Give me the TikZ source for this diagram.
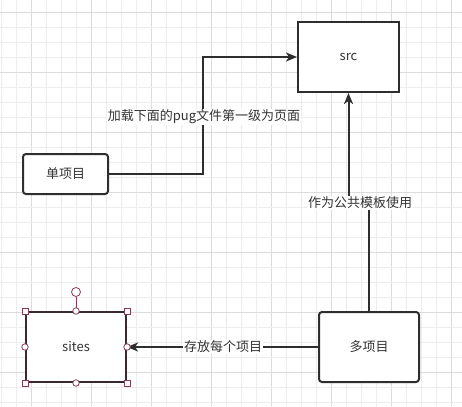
\documentclass[tikz,border=0pt]{standalone}
\usepackage{fontspec}
\setmainfont{Noto Sans CJK SC}
\usetikzlibrary{arrows.meta,calc}
\definecolor{ink}{HTML}{2E2E2E}
\definecolor{txt}{HTML}{333333}
\definecolor{gridminor}{HTML}{EDEDED}
\definecolor{gridmajor}{HTML}{DCDCDC}
\definecolor{selborder}{HTML}{3A2A30}
\definecolor{handle}{HTML}{8B3A52}
\tikzset{
  box/.style={draw=ink, line width=2pt, fill=white, minimum width=101pt, minimum height=70pt, inner sep=0pt, text=txt, font=\fontsize{13}{15}\selectfont},
  rbox/.style={box, rounded corners=3pt},
  conn/.style={draw=ink, line width=2pt},
  arr/.style={conn, -{Stealth[length=11pt,width=9pt,inset=3pt]}},
  lbl/.style={fill=white, inner sep=1pt, text=txt, font=\fontsize{13}{15}\selectfont},
  hsq/.style={draw=handle, fill=white, line width=0.8pt, minimum size=6pt, inner sep=0pt, rectangle},
  hci/.style={draw=handle, fill=white, line width=0.8pt, minimum size=6.5pt, inner sep=0pt, circle}
}
\begin{document}
\begin{tikzpicture}[x=1pt,y=-1pt]
\useasboundingbox (0,0) rectangle (462,406);
\fill[white] (0,0) rectangle (462,406);
% grid
\foreach \i in {0,...,30} {
  \pgfmathsetmacro{\xx}{1.7+15*\i}
  \pgfmathtruncatemacro{\m}{mod(\i+2,4)}
  \ifnum\m=0 \draw[gridmajor, line width=0.9pt] (\xx,0) -- (\xx,406);
  \else \draw[gridminor, line width=0.9pt] (\xx,0) -- (\xx,406); \fi
}
\foreach \j in {0,...,26} {
  \pgfmathsetmacro{\yy}{12.7+15*\j}
  \pgfmathtruncatemacro{\m}{mod(\j,4)}
  \ifnum\m=0 \draw[gridmajor, line width=0.9pt] (0,\yy) -- (462,\yy);
  \else \draw[gridminor, line width=0.9pt] (0,\yy) -- (462,\yy); \fi
}
% nodes
\node[box] (src) at (348.5,57) {src};
\node[rbox, minimum width=85pt, minimum height=40pt] (dan) at (65.5,174) {单项目};
\node[rbox, minimum width=100pt] (duo) at (369,347) {多项目};
\node[box, draw=selborder, minimum width=100pt] (sites) at (76,347) {sites};
% connectors
\coordinate (j1) at (203,174);
\draw[arr] (dan.east) -- (j1) |- (src.west);
\node[lbl] (l1) at (204,117) {加载下面的pug文件第一级为页面};
\coordinate (j2a) at (369,203);
\coordinate (j2b) at (348.5,203);
\draw[arr] (duo.north) -- (j2a) -- (j2b) -- (src.south);
\node[lbl] (l2) at (360,203) {作为公共模板使用};
\draw[arr] (duo.west) -- (sites.east);
\node[lbl] (l3) at (223,347) {存放每个项目};
% selection handles
\node[hci, minimum size=9pt] (rot) at (76,292) {};
\draw[handle, line width=0.8pt] (rot.south) -- (sites.north);
\foreach \a in {north west,north east,south west,south east}
  \node[hsq] at (sites.\a) {};
\foreach \a in {north,south,east,west}
  \node[hci] at (sites.\a) {};
\end{tikzpicture}
\end{document}
